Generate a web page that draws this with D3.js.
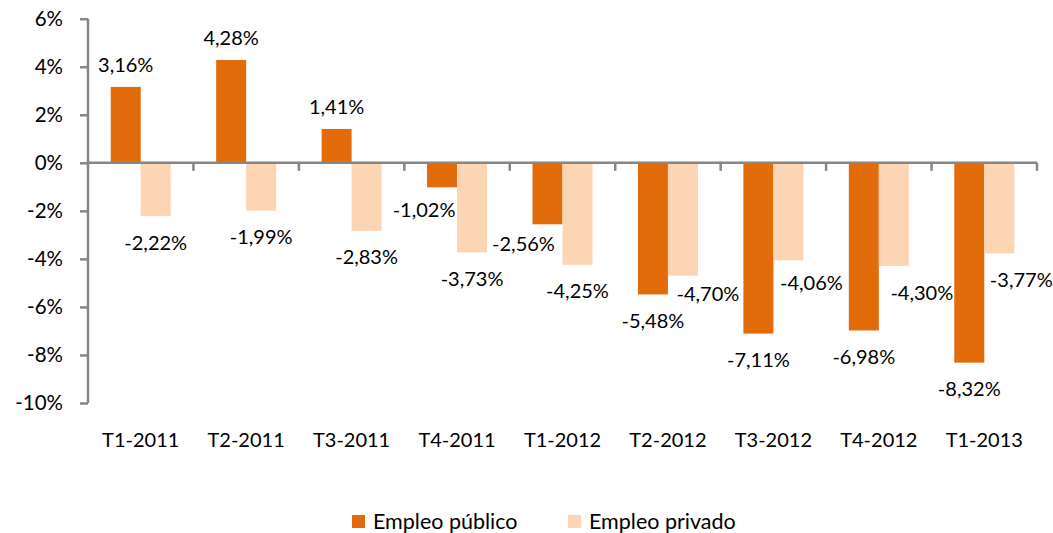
<!DOCTYPE html>
<html>
<head>
<meta charset="utf-8">
<script src="https://cdn.jsdelivr.net/npm/d3@7"></script>
<style>
  body { margin: 0; background: #fff; }
  text { font-family: Lato, "Liberation Sans", sans-serif; fill: #000; }
</style>
</head>
<body>
<div id="container"></div>
<script>
/* data */
var quarters = ["T1-2011", "T2-2011", "T3-2011", "T4-2011", "T1-2012", "T2-2012", "T3-2012", "T4-2012", "T1-2013"]
var publico = [3.16, 4.28, 1.41, -1.02, -2.56, -5.48, -7.11, -6.98, -8.32]
var privado = [-2.22, -1.99, -2.83, -3.73, -4.25, -4.70, -4.06, -4.30, -3.77]
var seriesNames = ["Empleo público", "Empleo privado"]
var yTicks = [-10, -8, -6, -4, -2, 0, 2, 4, 6]

/* hand-moved data labels (pixel nudges, as in the original) */
var nudgePublico = [[0,0],[0,0],[0,0],[-18,-4],[-24,-7],[0,0],[0,0],[0,0],[0,0]]
var nudgePrivado = [[0,0],[0,0],[0,0],[0,0],[0,0],[25,-8],[23,-4],[28,0],[22,0]]

var colors = ["#E36C0A", "#FCD5B5"]
var axisColor = "#868686"

/* dimensions */
var width = 1053, height = 533
var margin = { top: 18.7, left: 88, right: 16, bottom: 130 }

var svg = d3.select("#container")
            .append("svg")
            .attr("width", width)
            .attr("height", height)

var x = d3.scaleBand()
          .domain(quarters)
          .range([margin.left, width - margin.right])
          .paddingInner(0)
          .paddingOuter(0)

var y = d3.scaleLinear()
          .domain([-10, 6])
          .range([403, margin.top])

var bw = 30
var fmt = function(v) { return v.toFixed(2).replace(".", ",") + "%" }

/* bars */
var series = [publico, privado]
var nudges = [nudgePublico, nudgePrivado]

series.forEach(function(vals, s) {
  svg.selectAll(".bar" + s)
    .data(vals)
    .enter().append("rect")
      .attr("class", "bar" + s)
      .attr("x", function(d, i) { return x(quarters[i]) + x.bandwidth() / 2 - bw + s * bw })
      .attr("y", function(d) { return y(Math.max(0, d)) })
      .attr("width", bw)
      .attr("height", function(d) { return Math.abs(y(d) - y(0)) })
      .style("fill", colors[s])
})

/* y axis */
var yAxis = svg.append("g")
   .attr("transform", "translate(" + margin.left + ",0)")
   .call(d3.axisLeft(y).tickValues(yTicks).tickSize(8).tickFormat(function(d) { return d + "%" }))
yAxis.select(".domain").attr("stroke", axisColor).attr("stroke-width", 2.5).attr("d", "M0," + y(6) + "V" + y(-10))
yAxis.selectAll(".tick line").attr("stroke", axisColor).attr("stroke-width", 2.5)
yAxis.selectAll(".tick text")
     .attr("x", -25)
     .style("font-size", "20.5px")
     .style("font-family", "Lato, 'Liberation Sans', sans-serif")
     .attr("fill", "#000")

/* x axis at zero */
var boundaries = quarters.map(function(q) { return x(q) + x.bandwidth() })
var xg = svg.append("g")
xg.append("line")
  .attr("x1", margin.left).attr("x2", width - margin.right)
  .attr("y1", y(0)).attr("y2", y(0))
  .attr("stroke", axisColor).attr("stroke-width", 2.5)
xg.selectAll(".xtick")
  .data(boundaries)
  .enter().append("line")
    .attr("class", "xtick")
    .attr("x1", function(d) { return d }).attr("x2", function(d) { return d })
    .attr("y1", y(0)).attr("y2", y(0) + 8)
    .attr("stroke", axisColor).attr("stroke-width", 2.5)

/* category labels */
svg.selectAll(".cat")
  .data(quarters)
  .enter().append("text")
    .attr("class", "cat")
    .attr("x", function(d) { return x(d) + x.bandwidth() / 2 })
    .attr("y", 440)
    .attr("dy", "0.35em")
    .attr("text-anchor", "middle")
    .style("font-size", "20px")
    .text(function(d) { return d })

/* data labels */
series.forEach(function(vals, s) {
  svg.selectAll(".lab" + s)
    .data(vals)
    .enter().append("text")
      .attr("class", "lab" + s)
      .attr("x", function(d, i) { return x(quarters[i]) + x.bandwidth() / 2 - bw / 2 + s * bw + nudges[s][i][0] })
      .attr("y", function(d, i) { return (d >= 0 ? y(d) - 22 : y(d) + 26.5) + nudges[s][i][1] })
      .attr("dy", "0.35em")
      .attr("text-anchor", "middle")
      .style("font-size", "20px")
      .text(fmt)
})

/* legend */
var legendX = [352, 568]
var legend = svg.selectAll(".legend")
  .data(seriesNames)
  .enter().append("g")
    .attr("class", "legend")
    .attr("transform", function(d, i) { return "translate(" + legendX[i] + ",515)" })
legend.append("rect")
  .attr("width", 13).attr("height", 13)
  .style("fill", function(d, i) { return colors[i] })
legend.append("text")
  .attr("x", 21).attr("y", 6.5)
  .attr("dy", "0.35em")
  .style("font-size", "21.5px")
  .text(function(d) { return d })
</script>
</body>
</html>
